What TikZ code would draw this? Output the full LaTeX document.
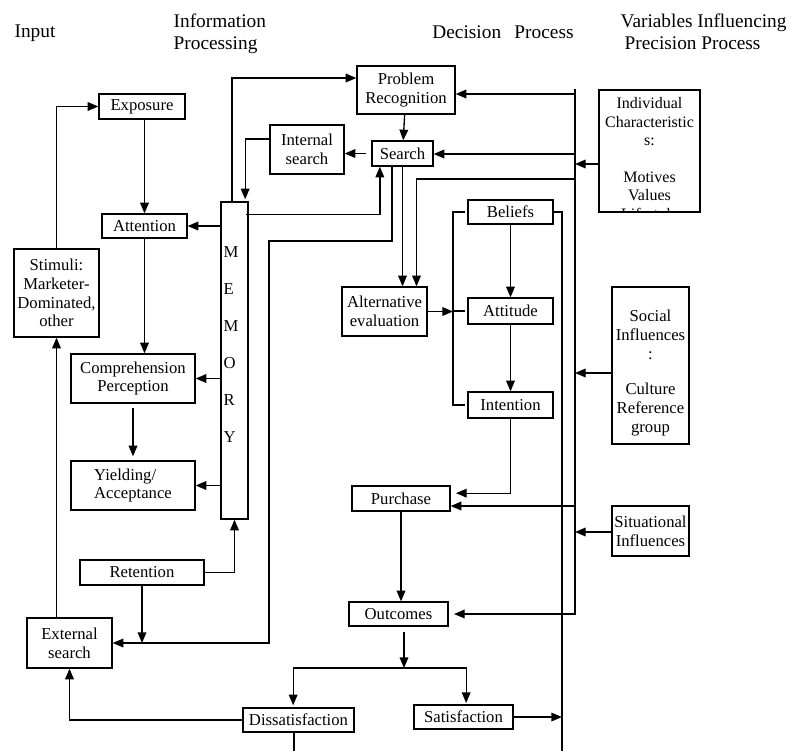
\documentclass[tikz,border=0pt]{standalone}
\usepackage{fontspec}
\setmainfont{Liberation Serif}
\usetikzlibrary{arrows.meta}

\newcommand{\boxfont}{\fontsize{12.5}{14}\selectfont}
\newcommand{\headfont}{\fontsize{14.5}{16.5}\selectfont}

\tikzset{
	box/.style={draw, align=center, inner sep=1pt, font=\boxfont},
	head/.style={align=left, inner sep=0pt, font=\headfont},
}

\begin{document}
\begin{tikzpicture}[x=0.75pt, y=-0.75pt, line width=1pt, >={Triangle[length=8pt,width=6.5pt]}]
		\useasboundingbox (0,0) rectangle (793,751);

		% column heads
		\node[head] (inputhd) at (35,33) {Input};
		\node[head, anchor=west] (infohd) at (173,34) {Information\\Processing};
		\node[head] (dechd) at (503,32) {Decision\hspace{10pt}Process};
		\node[head, anchor=west] (varhd) at (620,32) {Variables Influencing\\\hspace{3pt}Precision Process};

		% input and information processing
		\node[box, minimum width=63.75pt, minimum height=66pt] (stimuli) at (56.5,293) {Stimuli:\\Marketer-\\Dominated,\\other};
		\node[box, minimum width=64.5pt, minimum height=18.75pt] (expo) at (142,106.5) {Exposure};
		\node[box, minimum width=63.75pt, minimum height=18pt] (atten) at (144.5,226) {Attention};
		\node[box, minimum width=93pt, minimum height=36.75pt] (compre) at (133,378.5) {Comprehension\\Perception};
		\node[box, align=left, minimum width=93pt, minimum height=36.75pt] (yield) at (133,485.5) {Yielding/\\Acceptance};
		\node[box, minimum width=93pt, minimum height=18.75pt] (retention) at (142,572.5) {Retention};
		\node[box, minimum width=63.75pt, minimum height=37.5pt] (extsearch) at (69.5,643) {External\\search};
		\node[box, minimum width=55.5pt, minimum height=36.75pt] (intsearch) at (307,149.5) {Internal\\search};
		\node[draw, minimum width=20.25pt, minimum height=237.75pt] (memory) at (234.5,360.5) {};
		\node[anchor=west, align=left, inner sep=0pt, font=\fontsize{12.5}{27.75}\selectfont] (memtext) at (223,345) {M\\E\\M\\O\\R\\Y};

		% decision process
		\node[box, minimum width=73.5pt, minimum height=36pt] (problem) at (406,90) {Problem\\Recognition};
		\node[box, minimum width=45.75pt, minimum height=18.75pt] (search) at (402.5,153.5) {Search};
		\node[box, minimum width=63.75pt, minimum height=36.75pt] (alteval) at (384.5,311.5) {Alternative\\evaluation};
		\node[box, minimum width=63.75pt, minimum height=18pt] (beliefs) at (510.5,212) {Beliefs};
		\node[box, minimum width=63.75pt, minimum height=19.5pt] (attitude) at (510.5,311) {Attitude};
		\node[box, minimum width=63.75pt, minimum height=19.5pt] (intention) at (510.5,405) {Intention};
		\node[box, minimum width=73.5pt, minimum height=18.75pt] (purchase) at (401,498.5) {Purchase};
		\node[box, minimum width=74.25pt, minimum height=18pt] (outcomes) at (398.5,614) {Outcomes};
		\node[box, minimum width=83.25pt, minimum height=18pt] (dissat) at (298.5,720) {Dissatisfaction};
		\node[box, minimum width=74.25pt, minimum height=18pt] (satis) at (463.5,717) {Satisfaction};

		% influencing variables
		\node[draw, minimum width=75.75pt, minimum height=91.5pt] (indiv) at (649.5,151) {};
		\begin{scope}
			\clip (indiv.south west) rectangle (indiv.north east);
			\node[anchor=north, align=center, inner sep=0pt, font=\fontsize{12}{13.8}\selectfont] (indivtext) at (649.5,97) {Individual\\Characteristic\\s:\\[13.8pt]Motives\\Values\\Lifestyle};
		\end{scope}
		\node[draw, minimum width=57.75pt, minimum height=117.75pt] (social) at (650.5,365.5) {};
		\node[anchor=north, align=center, inner sep=0pt, font=\fontsize{12.5}{14.25}\selectfont] (socialtext) at (650.5,309) {Social\\Influences\\:\\[12pt]Culture\\Reference\\group};
		\node[box, minimum width=57.75pt, minimum height=37.5pt] (situ) at (650.5,531) {Situational\\Influences};

		% free ends of the connectors
		\coordinate (railtop) at (575,89);
		\coordinate (probin) at (575,94);
		\coordinate (searchin) at (575,154);
		\coordinate (indin) at (575,164);
		\coordinate (altin) at (575,179);
		\coordinate (socin) at (575,373);
		\coordinate (purin) at (575,506);
		\coordinate (sitin) at (575,532);
		\coordinate (rail2bot) at (562,751);
		\coordinate (sbend) at (269,241);
		\coordinate (brk) at (453,311);
		\coordinate (octop) at (404,632);
		\coordinate (split) at (404,668);
		\coordinate (disend) at (294,751);

		% information processing
		\draw[->] (stimuli.north) |- (expo.west);
		\draw[->] (stimuli.south |- extsearch.north) -- (stimuli.south);
		\draw[->] (atten.north |- expo.south) -- (atten.north);
		\draw[->] (atten.south) -- (atten.south |- compre.north);
		\draw[->] ([yshift=-3pt]compre.south) -- ([yshift=3pt]yield.north);
		\foreach \b in {atten, compre, yield}
		\draw[->] (memory.west |- \b.east) -- (\b.east);
		\draw[->] (retention.east) -| (memory.south);
		\draw[->] (retention.south) -- (retention.south |- extsearch.east);
		\draw[->] (dissat.west) -| (extsearch.south);
		\draw (dissat.south -| disend) -- (disend);

		% memory and search
		\draw[->] ([xshift=-2pt]memory.north) |- ([yshift=9pt]problem.west);
		\draw[->] ([xshift=-2pt,yshift=-10pt]memory.north east) -| ([xshift=-17pt]search.south);
		\draw[->] ([yshift=8pt]intsearch.west) -| ([xshift=8pt,yshift=1.5pt]memory.north);
		\draw[->] ([xshift=-4pt]search.west) -- (search.west -| intsearch.east);
		\draw[->] (problem) -- (search);
		\draw[->] ([xshift=-8pt]search.south) |- (sbend) |- (extsearch.east);
		\draw[->] (search.south) -- (search.south |- alteval.north);

		% evaluation to purchase
		\draw[->] (alteval.east) -- (alteval.east -| brk);
		\draw ([xshift=-2pt]beliefs.west) -- (beliefs.west -| brk) -- (intention.west -| brk) -- ([xshift=-2pt]intention.west);
		\draw (attitude.west -| brk) -- ([xshift=-2pt]attitude.west);
		\draw[->] (beliefs) -- (attitude);
		\draw[->] (attitude) -- (intention);
		\draw[->] (intention.south) |- ([xshift=4pt,yshift=4pt]purchase.east);
		\draw[->] (purchase.south) -- (purchase.south |- outcomes.north);
		\draw[->] (octop) -- (split);
		\draw[->] (split) -| ([xshift=-4pt,yshift=1.5pt]dissat.north);
		\draw[->] (split) -| ([xshift=2pt,yshift=1pt]satis.north);
		\draw (beliefs.east) -| (rail2bot);
		\draw[->] (satis.east) -- (satis.east -| rail2bot);

		% influences
		\draw[->] (railtop) |- ([xshift=4pt]outcomes.east);
		\draw[->] (probin) -- (problem.east |- probin);
		\draw[->] (searchin) -- (search.east |- searchin);
		\draw[->] (altin) -| ([xshift=24pt]alteval.north);
		\draw[->] (purin) -- (purchase.east |- purin);
		\draw[->] (indiv.west |- indin) -- (indin);
		\draw[->] (social.west |- socin) -- (socin);
		\draw[->] (situ.west |- sitin) -- (sitin);
	\end{tikzpicture}
\end{document}
